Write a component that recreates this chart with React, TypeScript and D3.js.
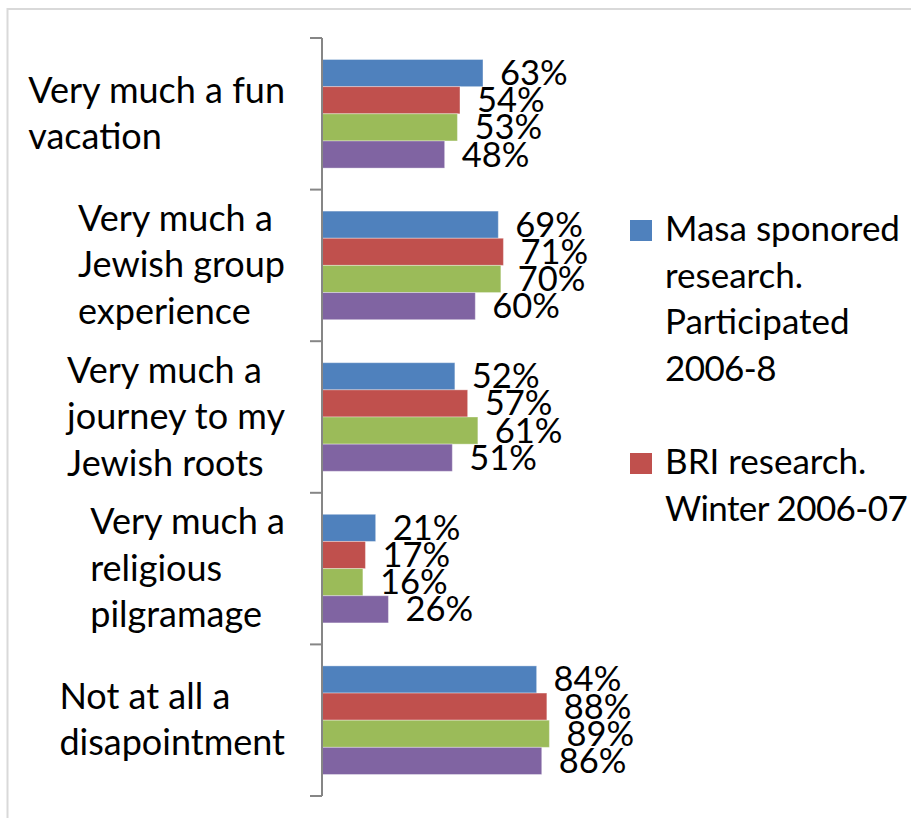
import React, { useEffect, useRef } from 'react';
import * as d3 from 'd3';

const categories = [
  'Very much a fun\nvacation',
  'Very much a\nJewish group\nexperience',
  'Very much a\njourney to my\nJewish roots',
  'Very much a\nreligious\npilgramage',
  'Not at all a\ndisapointment',
];

const seriesNames = [
  'Masa sponored research. Participated 2006-8',
  'BRI research. Winter 2006-07',
  'Series 3',
  'Series 4',
];
const seriesColors = ['#4F81BD', '#C0504D', '#9BBB59', '#8064A2'];

const masaValues = [63, 69, 52, 21, 84];
const briValues = [54, 71, 57, 17, 88];
const series3Values = [53, 70, 61, 16, 89];
const series4Values = [48, 60, 51, 26, 86];

const legendLines = [
  ['Masa sponored', 'research.', 'Participated', '2006-8'],
  ['BRI research.', 'Winter 2006-07'],
];

const FONT = 'Lato, "Open Sans", sans-serif';

export default function App() {
  const ref = useRef<SVGSVGElement>(null);

  useEffect(() => {
    const svg = d3.select(ref.current);
    svg.selectAll('*').remove();
    const fs = 36;
    const lineH = 46.5;

    // frame
    svg.append('rect').attr('x', 7.5).attr('y', 9).attr('width', 1000).attr('height', 1000)
      .attr('fill', 'none').attr('stroke', '#d9d9d9').attr('stroke-width', 2);

    const allSeries = [masaValues, briValues, series3Values, series4Values];
    const y = d3.scaleBand<number>().domain(d3.range(categories.length)).range([38, 796]);
    const y1 = d3.scaleBand<number>().domain(d3.range(allSeries.length))
      .range([21.5, y.bandwidth() - 21.5]);
    const x = d3.scaleLinear().domain([0, 100]).range([322, 577.5]);

    // bars
    allSeries.forEach((vals, si) => {
      svg.append('g').selectAll('rect').data(vals).join('rect')
        .attr('x', x(0))
        .attr('y', (_, i) => (y(i) as number) + (y1(si) as number))
        .attr('width', d => x(d) - x(0))
        .attr('height', y1.bandwidth())
        .attr('fill', seriesColors[si])
        .attr('stroke', 'rgba(255,255,255,0.35)')
        .attr('stroke-width', 1);
    });

    // axis
    const axisG = svg.append('g');
    axisG.append('line').attr('x1', 322).attr('x2', 322)
      .attr('y1', y.range()[0]).attr('y2', y.range()[1])
      .attr('stroke', '#868686').attr('stroke-width', 2);
    const tickYs = d3.range(categories.length).map(i => y(i) as number).concat([y.range()[1]]);
    axisG.selectAll('line.tick').data(tickYs).join('line').attr('class', 'tick')
      .attr('x1', 310).attr('x2', 322).attr('y1', d => d).attr('y2', d => d)
      .attr('stroke', '#868686').attr('stroke-width', 2);

    // data labels
    allSeries.forEach((vals, si) => {
      svg.append('g').selectAll('text').data(vals).join('text')
        .attr('x', d => x(d) + 17)
        .attr('y', (_, i) => (y(i) as number) + (y1(si) as number) + y1.bandwidth() / 2 + 12)
        .attr('font-family', FONT).attr('font-size', 34.5).attr('fill', '#000')
        .text(d => `${d}%`);
    });

    // category labels
    const rightEdge = 285;
    categories.forEach((c, i) => {
      const lines = c.split('\n');
      const g = svg.append('g');
      const cy = (y(i) as number) + y.bandwidth() / 2;
      const t0 = cy - ((lines.length - 1) * lineH) / 2;
      const texts = g.selectAll('text').data(lines).join('text')
        .attr('y', (_, k) => t0 + k * lineH + 12)
        .attr('font-family', FONT).attr('font-size', fs).attr('fill', '#000')
        .text(d => d);
      let maxW = 0;
      texts.each(function () {
        maxW = Math.max(maxW, (this as SVGTextElement).getComputedTextLength());
      });
      texts.attr('x', rightEdge - maxW);
    });

    // legend
    const legendStart = [241, 474];
    legendLines.forEach((lines, li) => {
      const g = svg.append('g');
      const base = legendStart[li];
      g.append('rect').attr('x', 630).attr('y', base - 21).attr('width', 22).attr('height', 21)
        .attr('fill', seriesColors[li]);
      g.selectAll('text').data(lines).join('text')
        .attr('x', 665).attr('y', (_, k) => base + k * lineH)
        .attr('font-family', FONT).attr('font-size', 35).attr('fill', '#000')
        .attr('letter-spacing', (d: string) => (/\d/.test(d) ? -0.6 : 0))
        .text(d => d);
    });
  }, []);

  return (
    <svg ref={ref} width={911} height={818}
      style={{ position: 'absolute', left: 0, top: 0, background: '#fff' }} />
  );
}
